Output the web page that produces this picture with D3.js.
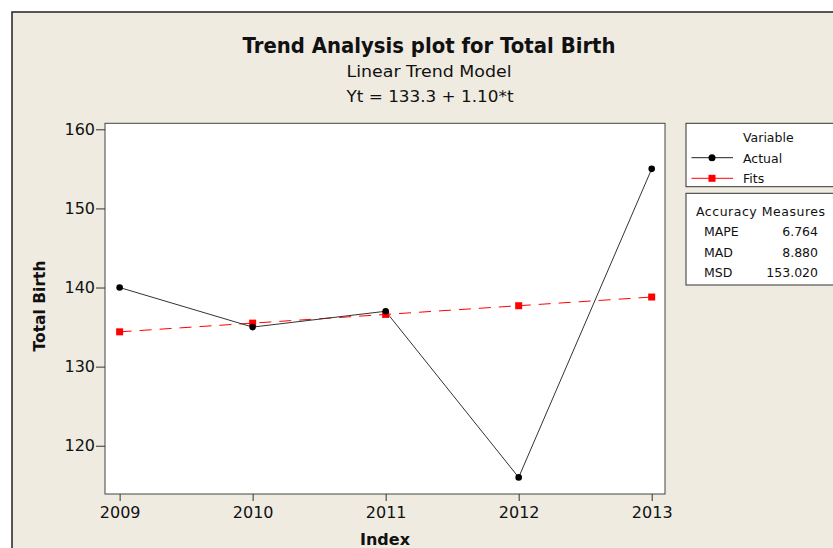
<!DOCTYPE html>
<meta charset="utf-8">
<style>
body { margin: 0; background: #fff; }
text { font-family: "DejaVu Sans", Verdana, sans-serif; fill: #111; }
.axis text { font-size: 16px; }
.axis line { stroke: #333; }
.axis path { display: none; }
</style>
<svg width="833" height="548"></svg>
<script src="https://d3js.org/d3.v7.min.js"></script>
<script>

var years = [2009, 2010, 2011, 2012, 2013];
var actual = [140, 135, 137, 116, 155];
var fits = [134.4, 135.5, 136.6, 137.7, 138.8];
var yTicks = [120, 130, 140, 150, 160];
var measureNames = ["MAPE", "MAD", "MSD"];
var measureValues = ["6.764", "8.880", "153.020"];

var svg = d3.select("svg");

// beige frame
svg.append("rect").attr("x", 12).attr("y", 12).attr("width", 900).attr("height", 600)
  .attr("fill", "#efebe1").attr("stroke", "#222").attr("stroke-width", 1.5);

var x = d3.scaleLinear().domain([2008.89, 2013.1]).range([105, 665]);
var y = d3.scaleLinear().domain([113.9, 160.76]).range([494, 123.3]);

svg.append("rect").attr("x", 105).attr("y", 123.3).attr("width", 560).attr("height", 370.7)
  .attr("fill", "#fff").attr("stroke", "#444").attr("stroke-width", 1);

svg.append("g").attr("class", "axis").attr("transform", "translate(0,494)")
  .call(d3.axisBottom(x).tickValues(years).tickFormat(d3.format("d")).tickSize(7).tickPadding(6))
  .selectAll("text").attr("dy", "0.71em");

svg.append("g").attr("class", "axis").attr("transform", "translate(105,0)")
  .call(d3.axisLeft(y).tickValues(yTicks).tickSize(9).tickPadding(1));

// titles
svg.append("text").attr("x", 429).attr("y", 53).attr("text-anchor", "middle")
  .attr("font-size", 21).attr("font-weight", "bold")
  .attr("textLength", 373).attr("lengthAdjust", "spacingAndGlyphs")
  .text("Trend Analysis plot for Total Birth");
svg.append("text").attr("x", 429).attr("y", 77).attr("text-anchor", "middle")
  .attr("font-size", 16.5).attr("textLength", 165).attr("lengthAdjust", "spacingAndGlyphs")
  .text("Linear Trend Model");
svg.append("text").attr("x", 430).attr("y", 101.5).attr("text-anchor", "middle")
  .attr("font-size", 16.5).attr("textLength", 167).attr("lengthAdjust", "spacingAndGlyphs")
  .text("Yt = 133.3 + 1.10*t");

svg.append("text").attr("x", 385).attr("y", 545).attr("text-anchor", "middle")
  .attr("font-size", 16).attr("font-weight", "bold").text("Index");
svg.append("text").attr("transform", "translate(45,306) rotate(-90)").attr("text-anchor", "middle")
  .attr("font-size", 15.5).attr("font-weight", "bold").text("Total Birth");

// series
var line = d3.line().x(function (d, i) { return x(years[i]); }).y(function (d) { return y(d); });

svg.append("path").datum(fits).attr("d", line).attr("fill", "none")
  .attr("stroke", "#f00").attr("stroke-width", 1).attr("stroke-dasharray", "12,8");
svg.append("path").datum(actual).attr("d", line).attr("fill", "none")
  .attr("stroke", "#333").attr("stroke-width", 1);

svg.selectAll(".fit").data(fits).enter().append("rect")
  .attr("x", function (d, i) { return x(years[i]) - 3.5; })
  .attr("y", function (d) { return y(d) - 3.5; })
  .attr("width", 7).attr("height", 7).attr("fill", "#f00");
svg.selectAll(".act").data(actual).enter().append("circle")
  .attr("cx", function (d, i) { return x(years[i]); })
  .attr("cy", function (d) { return y(d); })
  .attr("r", 3.3).attr("fill", "#000");

// legend
svg.append("rect").attr("x", 686).attr("y", 123.3).attr("width", 160).attr("height", 63.4)
  .attr("fill", "#fff").attr("stroke", "#333");
svg.append("text").attr("x", 743).attr("y", 142).attr("font-size", 12.5).text("Variable");
var leg = [
  { name: "Actual", color: "#222", ly: 157.7 },
  { name: "Fits", color: "#f00", ly: 178.3 }
];
leg.forEach(function (e, i) {
  svg.append("line").attr("x1", 691.5).attr("x2", 733).attr("y1", e.ly).attr("y2", e.ly)
    .attr("stroke", e.color).attr("stroke-width", 1);
  if (i === 0) {
    svg.append("circle").attr("cx", 712).attr("cy", e.ly).attr("r", 3.5).attr("fill", "#000");
  } else {
    svg.append("rect").attr("x", 708.5).attr("y", e.ly - 3.5).attr("width", 7).attr("height", 7).attr("fill", "#f00");
  }
  svg.append("text").attr("x", 743).attr("y", e.ly + 5).attr("font-size", 12.5).text(e.name);
});

svg.append("rect").attr("x", 686).attr("y", 193.3).attr("width", 160).attr("height", 91.7)
  .attr("fill", "#fff").attr("stroke", "#333");
svg.append("text").attr("x", 696).attr("y", 215.5).attr("font-size", 12.5)
  .attr("textLength", 129).attr("lengthAdjust", "spacing").text("Accuracy Measures");
measureNames.forEach(function (n, i) {
  var by = 236 + i * 20.7;
  svg.append("text").attr("x", 704).attr("y", by).attr("font-size", 12.5).text(n);
  svg.append("text").attr("x", 818).attr("y", by).attr("font-size", 12.5)
    .attr("text-anchor", "end").text(measureValues[i]);
});

</script>
